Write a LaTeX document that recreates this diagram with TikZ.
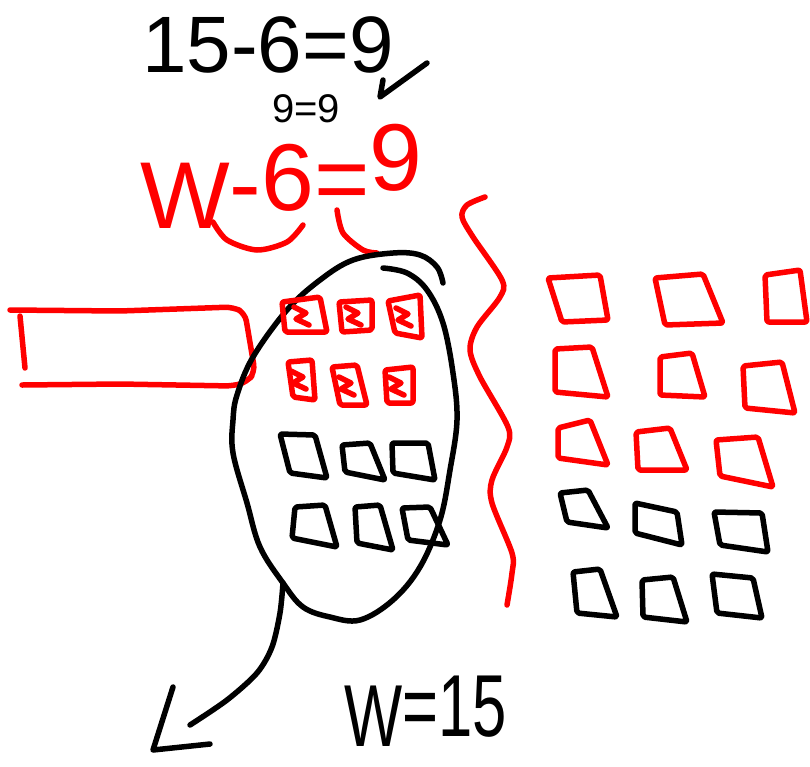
\documentclass[tikz,border=0pt]{standalone}
\usepackage{graphicx}
\usepackage{fontspec}
\setmainfont{Liberation Sans}
\newcommand{\qd}[5]{\draw[#1, rounded corners=2pt] (#2) -- (#3) -- (#4) -- (#5) -- cycle;}
\newcommand{\scr}[2]{\draw[redink] ({#1-9},{#2-9}) -- ({#1+3},{#2-3}) -- ({#1-7},{#2+3}) -- ({#1+6},{#2+9});}
\begin{document}
\begin{tikzpicture}[x=1pt,y=-1pt,line cap=round,line join=round,
  ink/.style={line width=5.5pt},
  redink/.style={ink,draw=red},
  blackink/.style={ink,draw=black},
  txt/.style={anchor=base west,inner sep=0pt}]
\useasboundingbox[fill=white] (0,0) rectangle (810,766);

% black equations
\node[txt,font=\fontsize{80}{80}\selectfont] (eqtop) at (142,72) {15-6=9};
\node[txt,font=\fontsize{40}{40}\selectfont] (eqcheck) at (272,122) {9=9};
\coordinate (ck1) at (383,80);
\coordinate (ck2) at (380,97);
\coordinate (ck3) at (427,63);
\draw[blackink] (ck1) -- (ck2) -- (ck3);

% red equation
\node[txt,text=red,font=\fontsize{95}{95}\selectfont] (eqred) at (140,228)
  {W\raisebox{12pt}{-}\raisebox{18pt}{6}\raisebox{17pt}{=}\raisebox{38pt}{9}};
\draw[redink] plot[smooth] coordinates {(213,222) (227,240) (257,250) (287,242) (303,225)};
\draw[redink] plot[smooth] coordinates {(337,210) (343,233) (363,250) (377,253)};

% red rectangle
\draw[redink,rounded corners=8pt] (10,310) -- (120,311) -- (233,307) -- (245,313) -- (255,372) -- (247,382) -- (233,386) -- (120,384) -- (22,385);
\draw[redink] (20,316) -- (25,368);

% ellipse
\draw[blackink] plot[smooth,tension=0.6] coordinates {(383,268) (407,273) (427,290) (443,323) (453,373) (457,420) (450,470) (440,520) (420,567) (393,600) (360,620) (330,617) (303,607) (283,583) (260,547) (247,503) (233,453) (233,420) (237,395) (253,357) (287,310) (320,280) (353,260) (393,253) (420,255) (437,267) (443,283)};

% arrow
\coordinate (astart) at (283,583);
\coordinate (aend) at (190,725);
\draw[blackink] plot[smooth] coordinates {(283,583) (280,613) (272,647) (257,673) (227,700) (190,725)};
\draw[blackink] (173,687) -- (153,750) -- (210,744);

% W=15
\node[txt,font=\fontsize{88}{88}\selectfont,xscale=0.7,transform shape] (eqans) at (344,746)
  {W\raisebox{10pt}{=15}};

% red wavy line
\draw[redink] plot[smooth] coordinates {(485,197) (467,205) (462,217) (473,237) (502,280) (500,297) (477,327) (470,350) (480,377) (508,427) (507,447) (492,480) (492,503) (512,553) (512,573) (507,605)};

% inside squares
\qd{redink}{282,302}{320,297}{327,332}{285,332}
\qd{redink}{339,302}{372,300}{372,330}{342,332}
\qd{redink}{388,301}{420,295}{422,338}{395,333}
\qd{redink}{288,362}{312,360}{315,400}{293,397}
\qd{redink}{332,367}{357,365}{367,405}{340,405}
\qd{redink}{385,370}{413,367}{413,403}{387,403}
\scr{303}{316}
\scr{355}{316}
\scr{405}{317}
\scr{300}{380}
\scr{348}{386}
\scr{398}{386}
\qd{blackink}{280,434}{315,435}{327,478}{290,473}
\qd{blackink}{342,445}{370,443}{385,480}{345,472}
\qd{blackink}{392,443}{428,443}{435,480}{393,473}
\qd{blackink}{295,507}{325,505}{337,547}{292,538}
\qd{blackink}{355,507}{380,505}{393,550}{357,543}
\qd{blackink}{402,508}{430,507}{448,545}{408,540}

% right squares
\qd{redink}{548,278}{600,275}{608,320}{562,322}
\qd{redink}{655,278}{703,274}{723,323}{665,325}
\qd{redink}{765,275}{800,270}{807,322}{767,322}
\qd{redink}{555,349}{592,347}{608,397}{555,392}
\qd{redink}{660,357}{692,353}{705,397}{660,395}
\qd{redink}{743,366}{782,362}{795,413}{745,408}
\qd{redink}{558,428}{590,420}{608,465}{558,458}
\qd{redink}{636,432}{670,428}{687,470}{638,470}
\qd{redink}{716,440}{758,437}{773,487}{720,476}
\qd{blackink}{560,493}{588,490}{608,528}{567,522}
\qd{blackink}{635,503}{677,512}{682,545}{635,533}
\qd{blackink}{714,512}{762,513}{768,552}{720,545}
\qd{blackink}{573,572}{600,569}{617,617}{577,613}
\qd{blackink}{642,580}{673,577}{687,622}{643,617}
\qd{blackink}{712,574}{753,578}{762,618}{717,613}
\end{tikzpicture}
\end{document}
